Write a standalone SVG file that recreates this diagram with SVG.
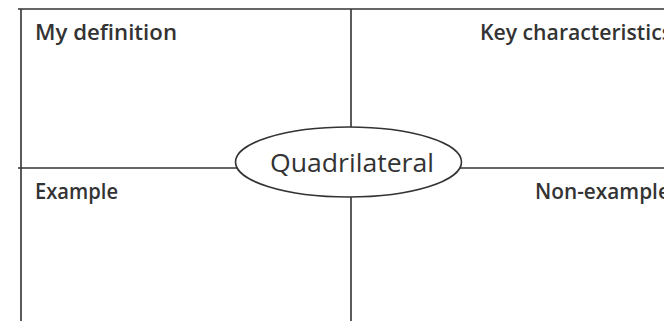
<svg xmlns="http://www.w3.org/2000/svg" width="664" height="321" viewBox="0 0 664 321">
<style>
.ln{stroke:#333;stroke-width:1.6;fill:none}
.lbl{font-family:"Open Sans",sans-serif;font-size:22px;font-weight:600;fill:#333}
.ctr{font-family:"Open Sans",sans-serif;font-size:25px;fill:#333}
</style>
<rect width="664" height="321" fill="#fff"/>
<g id="connectors">
<line class="ln" x1="18" y1="9" x2="664" y2="9"/>
<line class="ln" x1="21" y1="9" x2="21" y2="321"/>
<line class="ln" x1="351" y1="9" x2="351" y2="127"/>
<line class="ln" x1="351" y1="197" x2="351" y2="321"/>
<line class="ln" x1="18" y1="168" x2="237" y2="168"/>
<line class="ln" x1="460" y1="168" x2="664" y2="168"/>
</g>
<g id="q1"><text class="lbl" x="35" y="39.5" textLength="142" lengthAdjust="spacingAndGlyphs">My definition</text></g>
<g id="q2"><text class="lbl" x="480" y="39.5" textLength="192" lengthAdjust="spacingAndGlyphs">Key characteristics</text></g>
<g id="q3"><text class="lbl" x="35" y="198.5" textLength="83" lengthAdjust="spacingAndGlyphs">Example</text></g>
<g id="q4"><text class="lbl" x="535" y="198.5" textLength="145" lengthAdjust="spacingAndGlyphs">Non-examples</text></g>
<g id="center">
<ellipse class="ln" cx="348.5" cy="162" rx="113" ry="35" fill="#fff"/>
<text class="ctr" x="270" y="171.5" textLength="164" lengthAdjust="spacingAndGlyphs">Quadrilateral</text>
</g>
</svg>
